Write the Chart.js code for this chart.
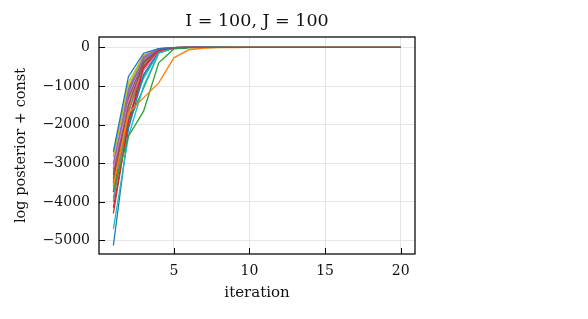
<!DOCTYPE html>
<html>
<head>
<meta charset="utf-8">
<script src="https://cdn.jsdelivr.net/npm/chart.js@4/dist/chart.umd.min.js"></script>
<style>
  html, body { margin: 0; padding: 0; background: #fff; }
  #wrap { width: 588px; height: 319px; position: relative; }
</style>
</head>
<body>
<div id="wrap"><canvas id="c" width="588" height="319"></canvas></div>
<script>
const titleText = "I = 100, J = 100";
const xLabel = "iteration";
const yLabel = "log posterior + const";
const iterations = [1,2,3,4,5,6,7,8,9,10,11,12,13,14,15,16,17,18,19,20];
const xTickValues = [5, 10, 15, 20];
const yTickValues = [-5000, -4000, -3000, -2000, -1000, 0];
const palette = ["#1f77b4","#ff7f0e","#2ca02c","#d62728","#9467bd","#8c564b","#e377c2","#7f7f7f","#bcbd22","#17becf"];

const run01 = [-2700,-750,-150,-30,-5,0,0,0,0,0,0,0,0,0,0,0,0,0,0,0];
const run02 = [-3600,-1700,-1300,-920,-270,-60,-15,-5,-2,0,0,0,0,0,0,0,0,0,0,0];
const run03 = [-3700,-2300,-1650,-400,-40,-10,-2,0,0,0,0,0,0,0,0,0,0,0,0,0];
const run04 = [-4300,-1900,-500,-80,-10,0,0,0,0,0,0,0,0,0,0,0,0,0,0,0];
const run05 = [-3000,-1200,-250,-40,-5,0,0,0,0,0,0,0,0,0,0,0,0,0,0,0];
const run06 = [-3400,-1500,-400,-60,-8,0,0,0,0,0,0,0,0,0,0,0,0,0,0,0];
const run07 = [-3100,-1400,-600,-90,-10,0,0,0,0,0,0,0,0,0,0,0,0,0,0,0];
const run08 = [-4000,-1700,-450,-70,-8,0,0,0,0,0,0,0,0,0,0,0,0,0,0,0];
const run09 = [-2800,-900,-200,-35,-5,0,0,0,0,0,0,0,0,0,0,0,0,0,0,0];
const run10 = [-4700,-2300,-1000,-150,-15,0,0,0,0,0,0,0,0,0,0,0,0,0,0,0];
const run11 = [-5130,-2100,-700,-100,-10,0,0,0,0,0,0,0,0,0,0,0,0,0,0,0];
const run12 = [-3550,-1600,-500,-60,-6,0,0,0,0,0,0,0,0,0,0,0,0,0,0,0];
const run13 = [-3450,-1950,-1050,-150,-20,0,0,0,0,0,0,0,0,0,0,0,0,0,0,0];
const run14 = [-4150,-2000,-550,-90,-10,0,0,0,0,0,0,0,0,0,0,0,0,0,0,0];
const run15 = [-3150,-1100,-300,-50,-5,0,0,0,0,0,0,0,0,0,0,0,0,0,0,0];
const run16 = [-3300,-1300,-350,-60,-6,0,0,0,0,0,0,0,0,0,0,0,0,0,0,0];
const run17 = [-3050,-1250,-550,-80,-8,0,0,0,0,0,0,0,0,0,0,0,0,0,0,0];
const run18 = [-3500,-1450,-380,-55,-6,0,0,0,0,0,0,0,0,0,0,0,0,0,0,0];
const run19 = [-2850,-1000,-250,-40,-5,0,0,0,0,0,0,0,0,0,0,0,0,0,0,0];
const run20 = [-3900,-1800,-800,-120,-12,0,0,0,0,0,0,0,0,0,0,0,0,0,0,0];
const run21 = [-3500,-1050,-200,-30,-4,0,0,0,0,0,0,0,0,0,0,0,0,0,0,0];
const run22 = [-3250,-1350,-420,-65,-7,0,0,0,0,0,0,0,0,0,0,0,0,0,0,0];
const run23 = [-3600,-1550,-750,-130,-15,0,0,0,0,0,0,0,0,0,0,0,0,0,0,0];
const run24 = [-3750,-1650,-480,-75,-8,0,0,0,0,0,0,0,0,0,0,0,0,0,0,0];
const run25 = [-3200,-1150,-280,-45,-5,0,0,0,0,0,0,0,0,0,0,0,0,0,0,0];

const runs = [run01,run02,run03,run04,run05,run06,run07,run08,run09,run10,
              run11,run12,run13,run14,run15,run16,run17,run18,run19,run20,
              run21,run22,run23,run24,run25];

const FONT = "'DejaVu Serif', serif";

const datasets = runs.map((vals, i) => ({
  label: "run " + (i + 1),
  data: iterations.map((x, k) => ({ x: x, y: vals[k] })),
  borderColor: palette[i % 10],
  backgroundColor: palette[i % 10],
  borderWidth: 1.3,
  pointRadius: 0,
  tension: 0,
  fill: false
}));

const framePlugin = {
  id: 'frame',
  afterDatasetsDraw(chart) {
    const { ctx, chartArea: a, scales } = chart;
    ctx.save();
    ctx.strokeStyle = '#000';
    ctx.lineWidth = 1.25;
    ctx.strokeRect(a.left, a.top, a.right - a.left, a.bottom - a.top);
    ctx.lineWidth = 1;
    ctx.beginPath();
    xTickValues.forEach(v => {
      const px = Math.round(scales.x.getPixelForValue(v)) + 0.5;
      ctx.moveTo(px, a.bottom);
      ctx.lineTo(px, a.bottom - 6);
    });
    yTickValues.forEach(v => {
      const py = Math.round(scales.y.getPixelForValue(v)) + 0.5;
      ctx.moveTo(a.left, py);
      ctx.lineTo(a.left + 6, py);
    });
    ctx.stroke();
    ctx.fillStyle = '#111';
    ctx.font = "17.5px " + FONT;
    ctx.textAlign = 'center';
    ctx.textBaseline = 'middle';
    ctx.fillText(titleText, (a.left + a.right) / 2, 21);
    ctx.restore();
  }
};

new Chart(document.getElementById('c'), {
  type: 'line',
  data: { datasets: datasets },
  plugins: [framePlugin],
  options: {
    responsive: false,
    animation: false,
    events: [],
    layout: { padding: { top: 37, right: 173, bottom: 0, left: 0 } },
    plugins: { legend: { display: false }, tooltip: { enabled: false }, title: { display: false } },
    scales: {
      x: {
        type: 'linear',
        min: 0.05,
        max: 20.95,
        afterBuildTicks: s => { s.ticks = xTickValues.map(v => ({ value: v })); },
        afterFit: s => { s.height = 65; },
        grid: { color: '#dedede', lineWidth: 0.8, drawTicks: false },
        border: { display: false },
        ticks: {
          padding: 9,
          color: '#111',
          font: { family: FONT, size: 14 },
          maxRotation: 0,
          callback: v => String(v)
        },
        title: {
          display: true,
          text: xLabel,
          color: '#111',
          font: { family: FONT, size: 15 },
          padding: { top: 0, bottom: 17 }
        }
      },
      y: {
        type: 'linear',
        min: -5350,
        max: 270,
        afterBuildTicks: s => { s.ticks = yTickValues.map(v => ({ value: v })); },
        afterFit: s => { s.width = 99; },
        grid: { color: '#dedede', lineWidth: 0.8, drawTicks: false },
        border: { display: false },
        ticks: {
          padding: 9,
          color: '#111',
          font: { family: FONT, size: 14 },
          callback: v => (v < 0 ? '\u2212' + Math.abs(v) : String(v))
        },
        title: {
          display: true,
          text: yLabel,
          color: '#111',
          font: { family: FONT, size: 14.5 },
          padding: { top: 13, bottom: 0 }
        }
      }
    }
  }
});
</script>
</body>
</html>
